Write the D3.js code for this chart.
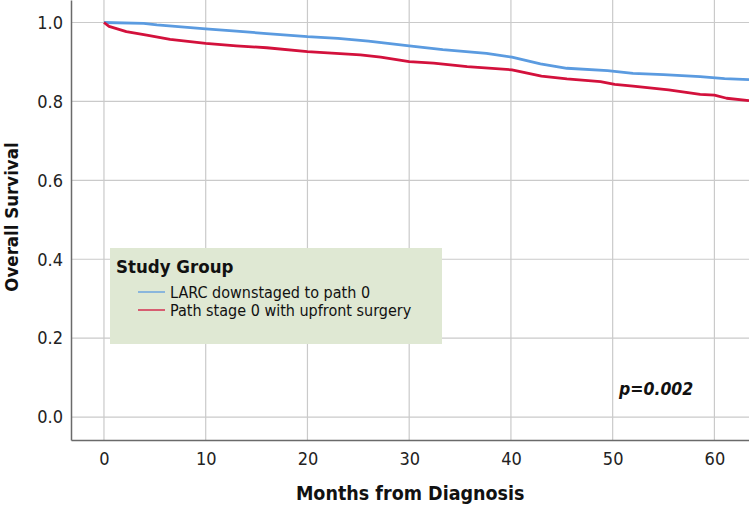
<!DOCTYPE html>
<html>
<head>
<meta charset="utf-8">
<script src="https://cdn.jsdelivr.net/npm/d3@7"></script>
<style>
  body { margin: 0; background: #fff; }
  text { font-family: "DejaVu Sans Condensed", "DejaVu Sans", sans-serif; }
</style>
</head>
<body>
<div id="chart"></div>
<script>
// data (months, survival)
const blueMonths = [0, 3.9, 5.2, 7, 10, 13, 16, 20, 23, 26, 30, 33.3, 37.6, 40.1, 42.9, 45.5, 49.5, 52, 55, 58.6, 61, 63.4];
const blueSurv   = [1.0, 0.998, 0.994, 0.99, 0.984, 0.978, 0.972, 0.964, 0.96, 0.953, 0.941, 0.931, 0.922, 0.912, 0.895, 0.884, 0.878, 0.871, 0.868, 0.863, 0.858, 0.855];
const redMonths  = [0, 0.5, 2.2, 4.2, 6.5, 10, 13, 16, 20, 25.2, 27.2, 30, 32.4, 35.7, 40.1, 43, 45.5, 48.8, 50.2, 52, 55.5, 58.6, 60, 61.2, 63.4];
const redSurv    = [1.0, 0.99, 0.977, 0.968, 0.957, 0.947, 0.941, 0.936, 0.926, 0.918, 0.912, 0.901, 0.897, 0.888, 0.88, 0.864, 0.857, 0.85, 0.843, 0.839, 0.829, 0.818, 0.816, 0.808, 0.802];
const seriesNames = ['LARC downstaged to path 0', 'Path stage 0 with upfront surgery'];
const seriesColors = ['#5b9be0', '#d3113c'];
const xTicks = [0, 10, 20, 30, 40, 50, 60];
const yTicks = [0.0, 0.2, 0.4, 0.6, 0.8, 1.0];

const W = 749, H = 506;
const margin = { top: 0, right: 0, bottom: 66, left: 71 };
const width = W - margin.left - margin.right;
const height = H - margin.top - margin.bottom;

const svg = d3.select('#chart').append('svg')
    .attr('width', W)
    .attr('height', H);

const group = svg.append('g')
    .attr('transform', 'translate(' + margin.left + ',' + margin.top + ')');

const xScale = d3.scaleLinear().domain([-3.24, 63.4]).range([0, width]);
const yScale = d3.scaleLinear().domain([-0.058, 1.057]).range([height, 0]);

// grid
group.append('g').selectAll('line').data(xTicks).join('line')
    .attr('x1', d => xScale(d)).attr('x2', d => xScale(d))
    .attr('y1', 0).attr('y2', height)
    .attr('stroke', '#cacaca').attr('stroke-width', 1.2);
group.append('g').selectAll('line').data(yTicks).join('line')
    .attr('x1', 0).attr('x2', width)
    .attr('y1', d => yScale(d)).attr('y2', d => yScale(d))
    .attr('stroke', '#cacaca').attr('stroke-width', 1.2);

// axes
const xAxis = d3.axisBottom(xScale).tickValues(xTicks).tickSize(0).tickPadding(12).tickFormat(d3.format('d'));
const yAxis = d3.axisLeft(yScale).tickValues(yTicks).tickSize(0).tickPadding(8).tickFormat(d3.format('.1f'));

const xAxisGroup = group.append('g').attr('transform', 'translate(0,' + height + ')').call(xAxis);
const yAxisGroup = group.append('g').call(yAxis);
[xAxisGroup, yAxisGroup].forEach(g => {
    g.select('.domain').attr('stroke', '#6a6a6a').attr('stroke-width', 1.5);
    g.selectAll('text').attr('font-size', 18).attr('fill', '#222')
        .style('font-family', '"DejaVu Sans Condensed", sans-serif');
});

// curves
const line = d3.line()
    .x(d => xScale(d[0]))
    .y(d => yScale(d[1]));

const curves = [
    d3.zip(blueMonths, blueSurv),
    d3.zip(redMonths, redSurv)
];
group.append('g').selectAll('path').data(curves).join('path')
    .attr('d', line)
    .attr('fill', 'none')
    .attr('stroke', (d, i) => seriesColors[i])
    .attr('stroke-width', 2.8)
    .attr('stroke-linejoin', 'round');

// legend
const legend = svg.append('g').attr('transform', 'translate(110,248)');
legend.append('rect')
    .attr('width', 332).attr('height', 96)
    .attr('fill', '#dfe8d3');
legend.append('text')
    .attr('x', 6).attr('y', 25)
    .attr('font-size', 18.5).attr('font-weight', 'bold').attr('fill', '#111')
    .text('Study Group');
const items = legend.selectAll('.item').data(seriesNames).join('g')
    .attr('class', 'item')
    .attr('transform', (d, i) => 'translate(0,' + (44 + i * 18) + ')');
items.append('line')
    .attr('x1', 28).attr('x2', 55)
    .attr('stroke', (d, i) => seriesColors[i]).attr('stroke-width', 1.3);
items.append('text')
    .attr('x', 60).attr('y', 5.5)
    .attr('font-size', 16).attr('fill', '#111')
    .text(d => d);

// p value
svg.append('text')
    .attr('x', 619).attr('y', 395)
    .attr('font-size', 17.5).attr('font-weight', 'bold').attr('font-style', 'italic')
    .attr('fill', '#111')
    .text('p=0.002');

// axis titles
svg.append('text')
    .attr('x', margin.left + xScale(30.1)).attr('y', 500)
    .attr('text-anchor', 'middle')
    .attr('font-size', 19.5).attr('font-weight', 'bold').attr('fill', '#111')
    .text('Months from Diagnosis');
svg.append('text')
    .attr('transform', 'translate(18,217) rotate(-90)')
    .attr('text-anchor', 'middle')
    .attr('font-size', 18.5).attr('font-weight', 'bold').attr('fill', '#111')
    .text('Overall Survival');
</script>
</body>
</html>
